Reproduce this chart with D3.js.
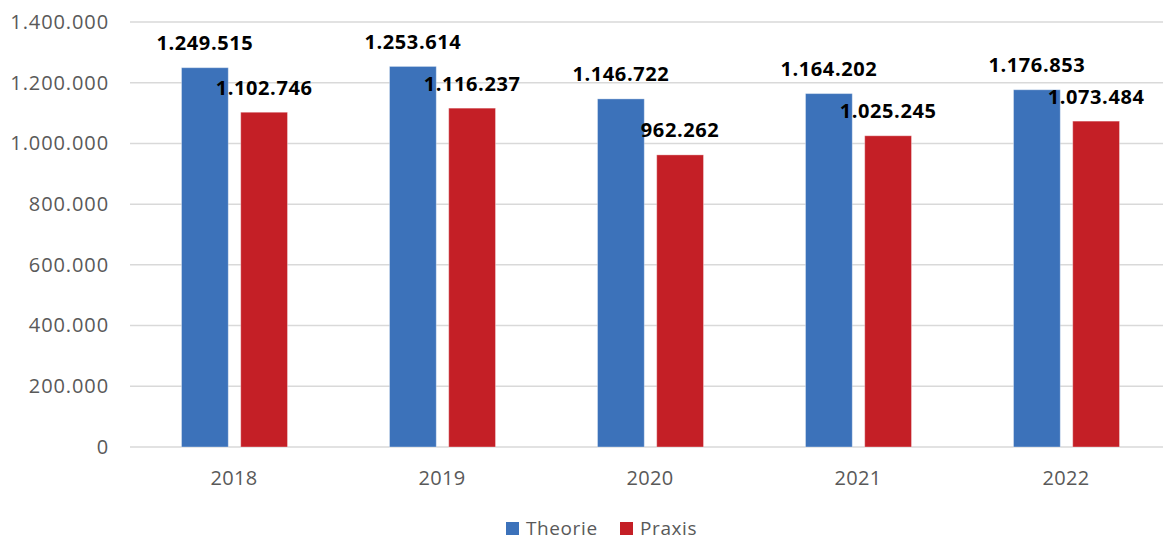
<!DOCTYPE html>
<html><head><meta charset="utf-8">
<script src="https://cdn.jsdelivr.net/npm/d3@7"></script>
<style>body{margin:0;background:#fff}svg{display:block}text{font-family:"Open Sans",sans-serif}</style>
</head><body><svg id="c" width="1163" height="540"></svg>
<script>
const categories = ["2018","2019","2020","2021","2022"];
const theorie = [1249515,1253614,1146722,1164202,1176853];
const praxis = [1102746,1116237,962262,1025245,1073484];
const seriesNames = ["Theorie","Praxis"];
const yTicks = [0,200000,400000,600000,800000,1000000,1200000,1400000];
const colors = ["#3C72BA","#C41F26"];

const svg = d3.select("#c");
const fmt = v => d3.format(",")(v).replace(/,/g,".");
const x = d3.scaleBand().domain(categories).range([130,1170]);
const y = d3.scaleLinear().domain([0,1400000]).range([447,22]);
const inner = d3.scaleBand().domain(seriesNames).range([51.5,157.5]).paddingInner(0.21);

// gridlines
svg.append("g").selectAll("line").data(yTicks).join("line")
  .attr("x1",130).attr("x2",1163)
  .attr("y1",d=>y(d)).attr("y2",d=>y(d))
  .attr("stroke","#d9d9d9").attr("stroke-width",1.5);

// y axis labels
const yAxis = d3.axisLeft(y).tickValues(yTicks).tickFormat(fmt).tickSize(0).tickPadding(0);
const ya = svg.append("g").attr("transform","translate(109,0)").call(yAxis);
ya.select(".domain").remove();
ya.selectAll("text").attr("fill","#595959").style("font-size","20px").style("font-family","Open Sans").style("letter-spacing","0.9px");

// x axis labels
const xAxis = d3.axisBottom(x).tickSize(0).tickPadding(0);
const xa = svg.append("g").attr("transform","translate(0,485)").call(xAxis);
xa.select(".domain").remove();
xa.selectAll("text").attr("fill","#595959").style("font-size","20px").style("font-family","Open Sans").attr("y",0).attr("dy","0").style("letter-spacing","0.3px");

const data = [];
categories.forEach((c,i)=>{
  data.push({cat:c,s:"Theorie",v:theorie[i],col:colors[0]});
  data.push({cat:c,s:"Praxis",v:praxis[i],col:colors[1]});
});

svg.append("g").selectAll("rect").data(data).join("rect")
  .attr("x",d=>x(d.cat)+inner(d.s))
  .attr("width",inner.bandwidth())
  .attr("y",d=>y(d.v))
  .attr("height",d=>y(0)-y(d.v))
  .attr("fill",d=>d.col)
  .attr("stroke","#ffffff").attr("stroke-opacity",0.35).attr("stroke-width",1);

svg.append("g").selectAll("text").data(data).join("text")
  .attr("x",d=>x(d.cat)+inner(d.s)+inner.bandwidth()/2)
  .attr("y",d=>y(d.v)-17.5)
  .attr("text-anchor","middle")
  .attr("fill","#000")
  .style("font-size","20px").style("font-weight","bold").style("letter-spacing","0.6px")
  .text(d=>fmt(d.v));

// legend
const leg = svg.append("g");
const legItems = [{n:"Theorie",c:colors[0],x:506},{n:"Praxis",c:colors[1],x:620}];
legItems.forEach(it=>{
  leg.append("rect").attr("x",it.x).attr("y",522).attr("width",13).attr("height",13).attr("fill",it.c);
  leg.append("text").attr("x",it.x+20).attr("y",535).attr("fill","#595959").style("font-size","19px").style("letter-spacing","0.6px").text(it.n);
});
</script></body></html>
